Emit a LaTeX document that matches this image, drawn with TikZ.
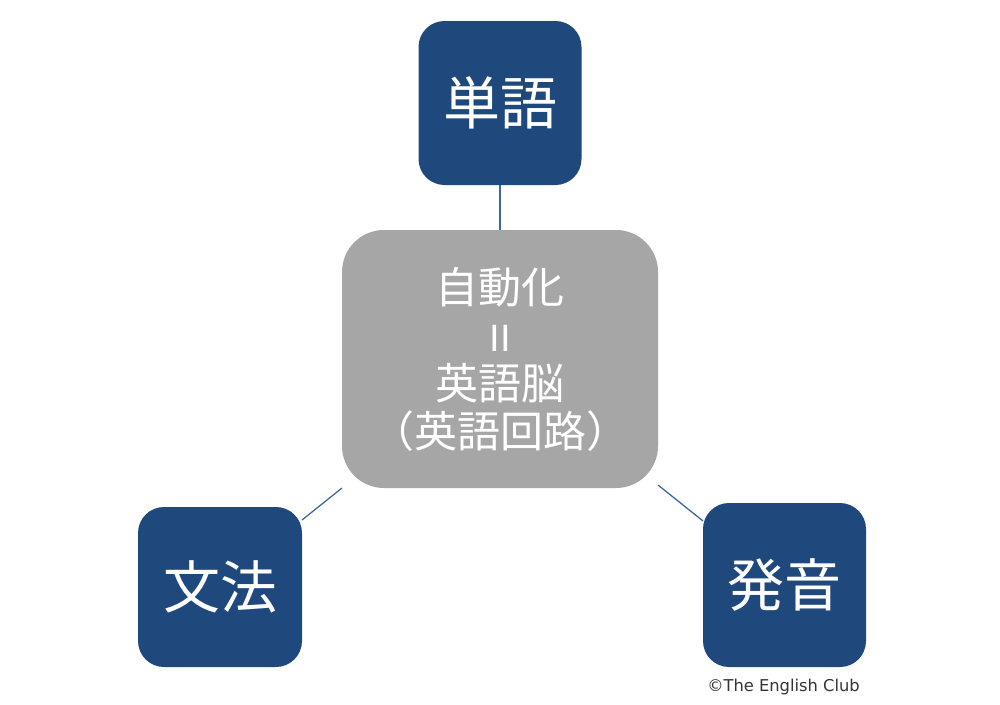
\documentclass[tikz,border=0pt]{standalone}
\usepackage{fontspec}
\setmainfont{Noto Sans CJK JP}
\newfontfamily\latinf{DejaVu Sans}
\begin{document}
\begin{tikzpicture}[x=1pt,y=-1pt,
  leaf/.style={fill=blueb,draw=none,rounded corners=26pt,text=white,font=\fontsize{57}{60}\selectfont,inner sep=0pt},
  link/.style={draw=linkc,line width=1.3pt}]
\definecolor{blueb}{HTML}{1F497D}
\definecolor{linkc}{HTML}{3F6797}
\definecolor{greyb}{HTML}{A6A6A6}
\useasboundingbox (0,0) rectangle (1000,704);
\fill[white] (0,0) rectangle (1000,704);
\coordinate (tl) at (342,488);
\coordinate (tr) at (658,485);
\coordinate (l2) at (302,520);
\coordinate (r2) at (703,521);
\node[leaf,minimum width=163pt,minimum height=164pt] (word) at (500,103) {単語};
\node[leaf,minimum width=164pt,minimum height=160pt] (gram) at (220,587) {\raisebox{1.5pt}{文法}};
\node[leaf,minimum width=163pt,minimum height=164pt] (pron) at (784.5,585) {\raisebox{1.5pt}{発音}};
\node[fill=greyb,rounded corners=42pt,minimum width=316pt,minimum height=258pt,inner sep=0pt] (core) at (500,359) {};
\draw[link] (word.south) -- (core.north);
\draw[link] (tl) -- (l2);
\draw[link] (tr) -- (r2);
\node[text=white,font=\fontsize{43}{48}\selectfont,align=center,anchor=center] (lab) at (500,359.5) {自動化\\{\latinf\fontsize{36}{48}\selectfont II}\\英語脳\\（英語回路）};
\node[font=\latinf\fontsize{16.3}{18}\selectfont,text=black!80] (copy) at (783.5,687) {©The English Club};
\end{tikzpicture}
\end{document}
